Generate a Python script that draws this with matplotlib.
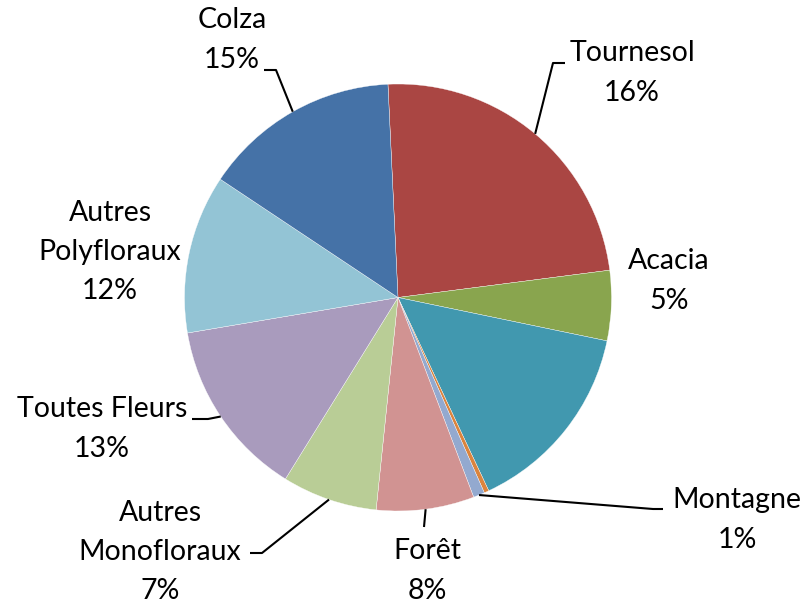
import matplotlib
matplotlib.use("Agg")
import matplotlib.pyplot as plt
import numpy as np

# ---- data ----
categories = ["Tournesol", "Acacia", "", "", "Montagne", "Forêt",
              "Autres\nMonofloraux", "Toutes Fleurs", "Autres\nPolyfloraux", "Colza"]
values = [23.7, 5.3, 14.75, 0.36, 0.86, 7.4, 7.2, 13.5, 12.0, 14.9]
shown_pct = ["16%", "5%", "", "", "1%", "8%", "7%", "13%", "12%", "15%"]
colors = ["#AA4643", "#89A54E", "#4198AF", "#DB843D", "#93A9CF", "#D19392",
          "#B9CD96", "#A99BBD", "#93C4D5", "#4572A7"]

W, H = 806, 604
fig = plt.figure(figsize=(W / 100, H / 100), dpi=100)
ax = fig.add_axes([0, 0, 1, 1])
ax.set_axis_off()

cx, cy, R = 398, H - 297.5, 213.5
wedges, _ = ax.pie(values, colors=colors, startangle=92.7, counterclock=False,
                   center=(cx, cy), radius=R,
                   wedgeprops=dict(edgecolor="white", linewidth=0.25))
ax.set_xlim(0, W)
ax.set_ylim(0, H)
ax.set_aspect("equal")

def P(x, y):
    return (x, H - y)

# layout: label centre (pixel coords, y down) and leader line start/elbow
layout = {
    0: ((632, 73), [(565, 63), (553, 63)]),
    1: ((669, 281), None),
    4: ((737, 520), [(663, 509), (653, 509)]),
    5: ((427, 571), [(424, 527)]),
    6: ((160, 552), [(250, 553), (262, 553)]),
    7: ((102, 429), [(192, 419), (208, 419)]),
    8: ((110, 252), None),
    9: ((232, 40), [(264, 70), (276, 70)]),
}

font = dict(family=["Lato", "DejaVu Sans"], size=20.5, color="black")
for i, (pos, pts) in layout.items():
    txt = categories[i] + "\n" + shown_pct[i]
    ax.text(*P(*pos), txt, ha="center", va="center", multialignment="center",
            linespacing=1.62, **font)
    if pts:
        w = wedges[i]
        mid = np.deg2rad((w.theta1 + w.theta2) / 2)
        ax_ = cx + R * np.cos(mid)
        ay_ = cy + R * np.sin(mid)
        xs = [P(*p)[0] for p in pts] + [ax_]
        ys = [P(*p)[1] for p in pts] + [ay_]
        ax.plot(xs, ys, color="black", lw=1.5, solid_capstyle="butt")

fig.savefig("out.png", dpi=100, facecolor="white")
